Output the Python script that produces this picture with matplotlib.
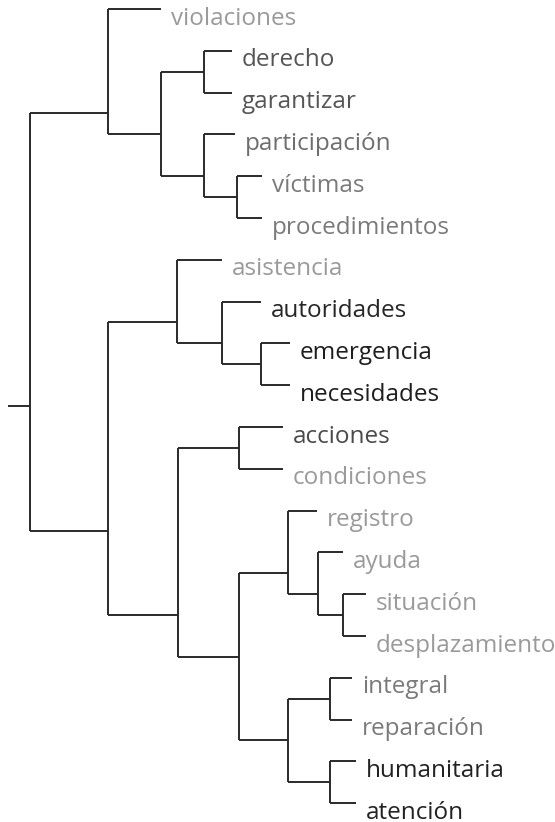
import numpy as np
import matplotlib
matplotlib.use("Agg")
import matplotlib.pyplot as plt

# leaves, top to bottom
labels = ["violaciones", "derecho", "garantizar", "participación", "víctimas",
          "procedimientos", "asistencia", "autoridades", "emergencia", "necesidades",
          "acciones", "condiciones", "registro", "ayuda", "situación",
          "desplazamiento", "integral", "reparación", "humanitaria", "atención"]

# distance from root to each leaf tip
tips = [1.31, 2.02, 2.02, 2.05, 2.32, 2.32, 1.92, 2.31, 2.60, 2.60,
        2.53, 2.53, 2.87, 3.13, 3.36, 3.36, 3.22, 3.22, 3.26, 3.26]

# grey level of each label
shades = ["#9a9a9a", "#555555", "#555555", "#6e6e6e", "#7a7a7a", "#7a7a7a",
          "#9a9a9a", "#262626", "#1e1e1e", "#1e1e1e", "#4a4a4a", "#9a9a9a",
          "#9a9a9a", "#9a9a9a", "#9a9a9a", "#9a9a9a", "#7a7a7a", "#7a7a7a",
          "#222222", "#222222"]

# merges: (child a, child b, node distance) -> new ids 20, 21, ...
merges = [(1, 2, 1.74), (4, 5, 2.07), (3, 21, 1.74), (20, 22, 1.31),
          (0, 23, 0.78), (8, 9, 2.31), (7, 25, 1.92), (6, 26, 1.47),
          (10, 11, 2.09), (14, 15, 3.13), (13, 29, 2.88), (12, 30, 2.58),
          (16, 17, 3.00), (18, 19, 3.00), (32, 33, 2.58), (31, 34, 2.09),
          (28, 35, 1.48), (27, 36, 0.78), (24, 37, 0.00)]
root_stub = 0.21

n = len(labels)
xpos = {i: tips[i] for i in range(n)}
members = {i: [i] for i in range(n)}
ypos = {i: float(i) for i in range(n)}

fig = plt.figure(figsize=(5.55, 8.22), dpi=100)
ax = fig.add_axes([0, 0, 1, 1])
lc = "#2a2a2a"
lw = 1.4

for k, (a, b, d) in enumerate(merges):
    node = n + k
    members[node] = members[a] + members[b]
    ypos[node] = np.mean(members[node])
    xpos[node] = d
    ax.plot([d, d], [ypos[a], ypos[b]], color=lc, lw=lw, solid_capstyle="butt")
    for c in (a, b):
        ax.plot([d, xpos[c]], [ypos[c], ypos[c]], color=lc, lw=lw, solid_capstyle="butt")

root = n + len(merges) - 1
ax.plot([xpos[root] - root_stub, xpos[root]], [ypos[root], ypos[root]], color=lc, lw=lw)

for i, lab in enumerate(labels):
    ax.annotate(lab, (tips[i], i), xytext=(7, -11.2), textcoords="offset points",
                va="baseline", ha="left", fontsize=17.5, color=shades[i],
                family=["Open Sans", "DejaVu Sans"])

ax.set_xlim(-0.30, 5.25)
ax.set_ylim(19.45, -0.215)
ax.axis("off")

plt.savefig("out.png", dpi=100)
